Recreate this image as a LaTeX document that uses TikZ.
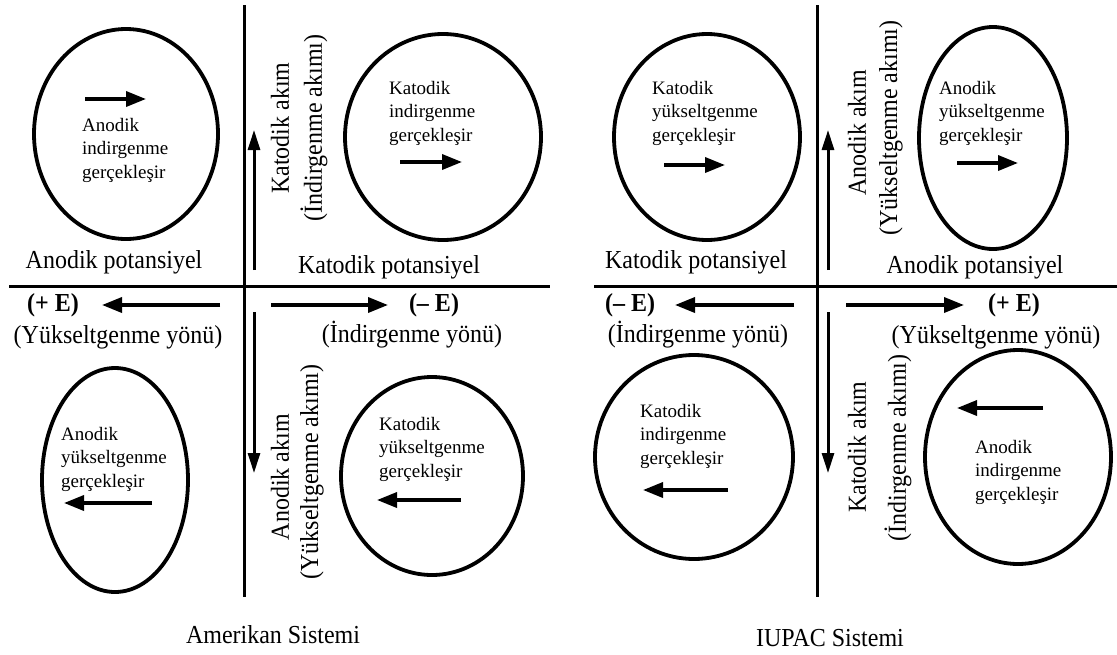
\documentclass[tikz,border=0pt]{standalone}
\usepackage{fontspec}
\setmainfont{Liberation Serif}
\usetikzlibrary{arrows.meta}
\begin{document}
\begin{tikzpicture}[x=1pt,y=-1pt,
 big/.style={font=\fontsize{24}{28}\selectfont, inner sep=0pt, yscale=1.08},
 bigb/.style={font=\fontsize{24}{28}\selectfont\bfseries, inner sep=0pt, yscale=1.08},
 rot/.style={font=\fontsize{24}{28}\selectfont, inner sep=0pt, rotate=90, yscale=1.08},
 small/.style={font=\fontsize{19}{23.5}\selectfont, align=left, anchor=west, inner sep=0pt},
 ax/.style={line width=3pt},
 ar/.style={line width=3.5pt, -{Triangle[length=20pt,width=15pt]}},
 var/.style={line width=3pt, -{Triangle[length=20pt,width=12pt]}},
 ring/.style={line width=3.8pt}]
\useasboundingbox (0,0) rectangle (1117,654);

% ================= Amerikan Sistemi =================
\draw[ax] (244,5) -- (244,597);
\draw[ax] (9,286) -- (550,286);
\draw[ring] (126,134) ellipse (92 and 105);
\draw[ring] (443,137) ellipse (98 and 103);
\draw[ring] (115,480) ellipse (73 and 112);
\draw[ring] (432,476) ellipse (91 and 99);

\node[big] (aap) at (114,262) {Anodik potansiyel};
\node[big] (akp) at (389,267) {Katodik potansiyel};
\node[bigb] (ape) at (53,305) {(+ E)};
\node[bigb] (ame) at (434,305) {(– E)};
\node[big] (ayy) at (118,337) {(Yükseltgenme yönü)};
\node[big] (aiy) at (412,335) {(İndirgenme yönü)};
\draw[ar] (220,305) -- (102,305);
\draw[ar] (271,305) -- (388,305);
\draw[var] (254,270) -- (254,130);
\draw[var] (254,312) -- (254,473);
\node[rot] (aka) at (280,128) {Katodik akım};
\node[rot] (aia) at (314,128) {(İndirgenme akımı)};
\node[rot] (ana) at (280,477) {Anodik akım};
\node[rot] (aya) at (312,472) {(Yükseltgenme akımı)};

\draw[ar] (85,99) -- (146,99);
\node[small] (t1) at (82,150) {Anodik\\indirgenme\\gerçekleşir};
\node[small] (t2) at (389,113) {Katodik\\indirgenme\\gerçekleşir};
\draw[ar] (400,162) -- (462,162);
\node[small] (t3) at (61,459) {Anodik\\yükseltgenme\\gerçekleşir};
\draw[ar] (152,503) -- (64,503);
\node[small] (t4) at (379,449) {Katodik\\yükseltgenme\\gerçekleşir};
\draw[ar] (461,500) -- (377,500);

\node[big] (am) at (273,635) {Amerikan Sistemi};

% ================= IUPAC Sistemi =================
\draw[ax] (817,5) -- (817,597);
\draw[ax] (594,286) -- (1117,286);
\draw[ring] (707,137) ellipse (93 and 103);
\draw[ring] (993,138) ellipse (74 and 111);
\draw[ring] (694,457) ellipse (99 and 102);
\draw[ring] (1018,457) ellipse (93 and 107);

\node[big] (ikp) at (696,262) {Katodik potansiyel};
\node[big] (iap) at (975,267) {Anodik potansiyel};
\node[bigb] (ime) at (630,305) {(– E)};
\node[bigb] (ipe) at (1014,305) {(+ E)};
\node[big] (iiy) at (698,335) {(İndirgenme yönü)};
\node[big] (iyy) at (996,337) {(Yükseltgenme yönü)};
\draw[ar] (794,305) -- (675,305);
\draw[ar] (846,305) -- (964,305);
\draw[var] (828,270) -- (828,130);
\draw[var] (828,312) -- (828,473);
\node[rot] (ina) at (857,133) {Anodik akım};
\node[rot] (iya) at (891,128) {(Yükseltgenme akımı)};
\node[rot] (ika) at (857,447) {Katodik akım};
\node[rot] (iia) at (898,448) {(İndirgenme akımı)};

\node[small] (u1) at (652,113) {Katodik\\yükseltgenme\\gerçekleşir};
\draw[ar] (664,165) -- (725,165);
\node[small] (u2) at (939,113) {Anodik\\yükseltgenme\\gerçekleşir};
\draw[ar] (957,163) -- (1018,163);
\node[small] (u3) at (640,436) {Katodik\\indirgenme\\gerçekleşir};
\draw[ar] (728,490) -- (643,490);
\draw[ar] (1043,408) -- (957,408);
\node[small] (u4) at (975,472) {Anodik\\indirgenme\\gerçekleşir};

\node[big] (iu) at (830,638) {IUPAC Sistemi};
\end{tikzpicture}
\end{document}
